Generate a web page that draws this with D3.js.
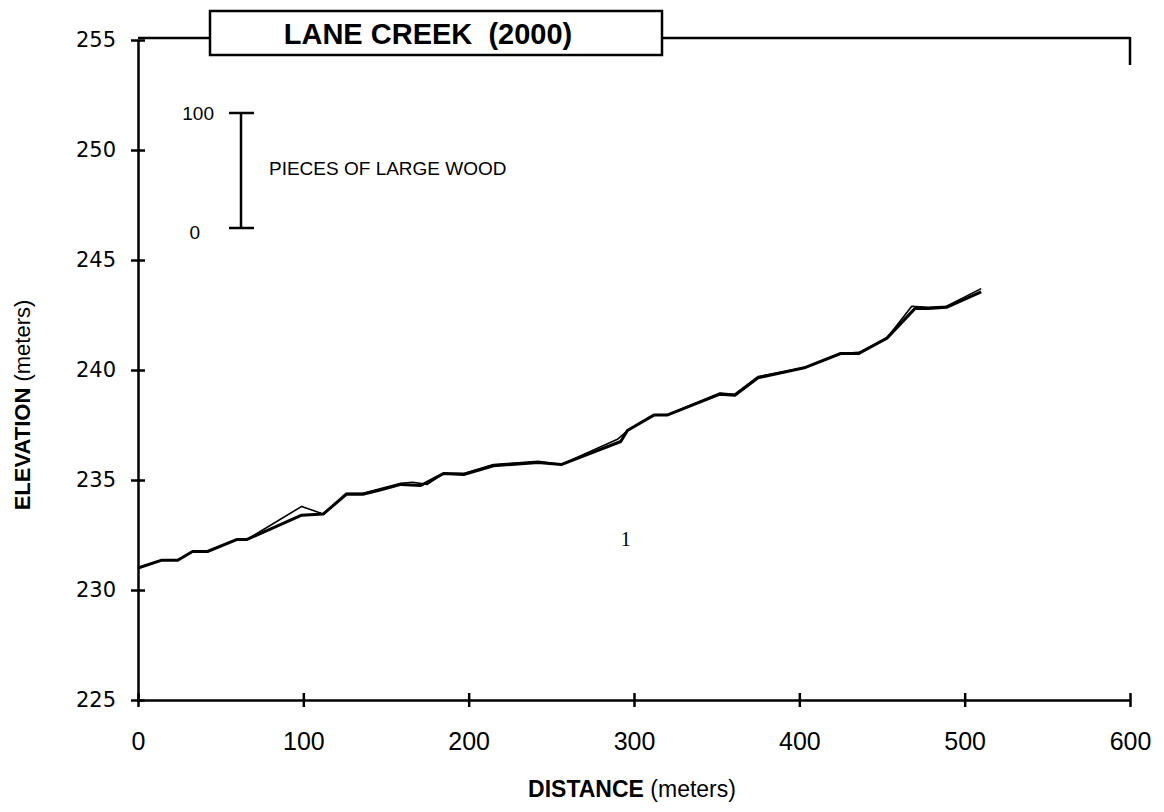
<!DOCTYPE html>
<html>
<meta charset="utf-8">
<script src="https://cdn.jsdelivr.net/npm/d3@7"></script>
<style>
body{
  margin: 0;
  background: white;
}
.axis path, .axis line{
  stroke: black;
  stroke-width: 2.5;
}
.tickLbl{
  fill: black;
}
</style>
<body>
<div id="chart"></div>
<script>
// survey 1 (thick line)
var distA = [0, 14, 24, 33, 42, 60, 66, 99, 112, 126, 136, 147, 159, 171, 185, 197, 215, 242, 256, 292, 296, 312, 320, 352, 361, 375, 403, 425, 436, 453, 470, 478, 489, 510];
var elevA = [231.0, 231.35, 231.35, 231.75, 231.75, 232.3, 232.3, 233.4, 233.45, 234.35, 234.35, 234.55, 234.8, 234.75, 235.3, 235.25, 235.65, 235.8, 235.7, 236.75, 237.25, 237.95, 237.95, 238.9, 238.85, 239.65, 240.1, 240.75, 240.75, 241.45, 242.8, 242.8, 242.85, 243.55];
// survey 2 (thin line)
var distB = [0, 14, 24, 33, 42, 60, 66, 99, 112, 126, 136, 159, 166, 175, 185, 197, 215, 242, 256, 290, 297, 312, 320, 352, 361, 375, 403, 425, 436, 453, 468, 478, 489, 510];
var elevB = [231.0, 231.35, 231.35, 231.75, 231.75, 232.3, 232.3, 233.8, 233.45, 234.4, 234.4, 234.85, 234.9, 234.8, 235.3, 235.3, 235.7, 235.85, 235.7, 236.85, 237.3, 237.95, 237.95, 238.95, 238.9, 239.7, 240.1, 240.75, 240.8, 241.45, 242.9, 242.85, 242.9, 243.7];

var xTicks = [0, 100, 200, 300, 400, 500, 600];
var yTicks = [225, 230, 235, 240, 245, 250, 255];

// wood count labels
var woodLabels = [{dist: 295, elev: 232.2, text: "1"}];

var width = 1164, height = 812;
var mLeft = 138, mRight = 1130, mTop = 40, mBottom = 700;

var svg = d3.select("#chart").append("svg").attr("width", width).attr("height", height);

var x = d3.scaleLinear().domain([0, 600]).range([mLeft, mRight]);
var y = d3.scaleLinear().domain([225, 255]).range([mBottom, mTop]);

// top frame line + right stub
svg.append("line").attr("x1", mLeft).attr("x2", mRight).attr("y1", mTop - 2).attr("y2", mTop - 2)
  .attr("stroke", "black").attr("stroke-width", 2.5);
svg.append("line").attr("x1", mRight).attr("x2", mRight).attr("y1", mTop - 3).attr("y2", mTop + 25)
  .attr("stroke", "black").attr("stroke-width", 2.5);

var yAxis = svg.append("g").attr("class", "axis").attr("transform", "translate(" + mLeft + ",0)")
  .call(d3.axisLeft(y).tickValues(yTicks).tickSizeOuter(0).tickSizeInner(7).tickFormat(d3.format("d")));
yAxis.selectAll(".tick line").attr("x1", -7).attr("x2", 7);
yAxis.selectAll("text").attr("class", "tickLbl").attr("x", -22)
  .style("font-family", "DejaVu Sans").style("font-size", "21px");

var xAxis = svg.append("g").attr("class", "axis").attr("transform", "translate(0," + mBottom + ")")
  .call(d3.axisBottom(x).tickValues(xTicks).tickSizeOuter(0).tickSizeInner(7));
xAxis.selectAll(".tick line").attr("y1", -7).attr("y2", 7);
xAxis.selectAll("text").attr("class", "tickLbl").attr("y", 32)
  .style("font-family", "Liberation Sans, Arial").style("font-size", "25px");
svg.selectAll(".axis .domain").attr("stroke-width", 2.5);

// profile lines
var line = d3.line().x(function(d){return x(d[0])}).y(function(d){return y(d[1])});
var ptsA = distA.map(function(d, i){return [d, elevA[i]]});
var ptsB = distB.map(function(d, i){return [d, elevB[i]]});
svg.append("path").datum(ptsA).attr("d", line).attr("fill", "none")
  .attr("stroke", "black").attr("stroke-width", 3).attr("stroke-linejoin", "round");
svg.append("path").datum(ptsB).attr("d", line).attr("fill", "none")
  .attr("stroke", "black").attr("stroke-width", 1.6).attr("stroke-linejoin", "round");

svg.selectAll(".wood").data(woodLabels).enter().append("text").attr("class", "wood")
  .attr("x", function(d){return x(d.dist)}).attr("y", function(d){return y(d.elev)})
  .attr("text-anchor", "middle").attr("dominant-baseline", "middle")
  .style("font-family", "Liberation Serif, serif").style("font-size", "20px")
  .text(function(d){return d.text});

// title box
svg.append("rect").attr("x", 210).attr("y", 11).attr("width", 452).attr("height", 44)
  .attr("fill", "white").attr("stroke", "black").attr("stroke-width", 2.5);
svg.append("text").attr("x", 428).attr("y", 44).attr("text-anchor", "middle")
  .style("font-family", "Liberation Sans, Arial").style("font-weight", "bold").style("font-size", "29px")
  .attr("xml:space", "preserve")
  .text("LANE CREEK  (2000)");

// scale bar for wood pieces
var barTop = 113, barBot = 228, barX = 241;
svg.append("line").attr("x1", barX).attr("x2", barX).attr("y1", barTop).attr("y2", barBot)
  .attr("stroke", "black").attr("stroke-width", 2.5);
[barTop, barBot].forEach(function(v){
  svg.append("line").attr("x1", barX - 12).attr("x2", barX + 13).attr("y1", v).attr("y2", v)
    .attr("stroke", "black").attr("stroke-width", 2.5);
});
svg.append("text").attr("x", 214).attr("y", barTop + 7).attr("text-anchor", "end")
  .style("font-family", "Liberation Sans, Arial").style("font-size", "19px").text("100");
svg.append("text").attr("x", 200).attr("y", barBot + 11).attr("text-anchor", "end")
  .style("font-family", "Liberation Sans, Arial").style("font-size", "19px").text("0");
svg.append("text").attr("x", 269).attr("y", 175)
  .style("font-family", "Liberation Sans, Arial").style("font-size", "19px").text("PIECES OF LARGE WOOD");

// axis titles
var xt = svg.append("text").attr("x", 632).attr("y", 797).attr("text-anchor", "middle")
  .style("font-family", "Liberation Sans Narrow, Liberation Sans, Arial").style("font-size", "23px");
xt.append("tspan").style("font-weight", "bold").text("DISTANCE ");
xt.append("tspan").text("(meters)");

var yt = svg.append("text").attr("transform", "translate(30,405) rotate(-90)").attr("text-anchor", "middle")
  .style("font-family", "Liberation Sans Narrow, Liberation Sans, Arial").style("font-size", "22px");
yt.append("tspan").style("font-weight", "bold").text("ELEVATION ");
yt.append("tspan").text("(meters)");
</script>
</body>
</html>
